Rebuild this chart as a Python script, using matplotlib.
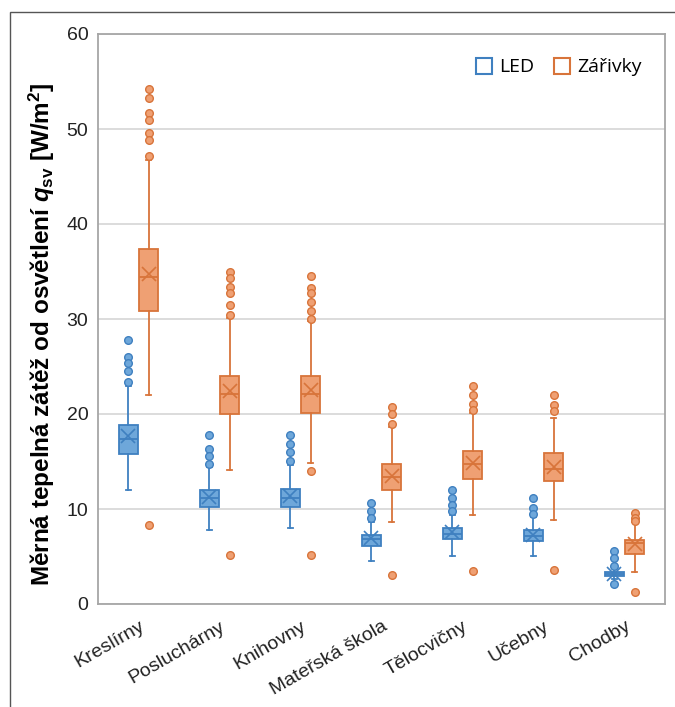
import matplotlib
matplotlib.use("Agg")
import matplotlib.pyplot as plt
from matplotlib import font_manager
from matplotlib.patches import Rectangle
from matplotlib.lines import Line2D

# ---------------- data ----------------
categories = ["Kreslírny", "Posluchárny", "Knihovny", "Mateřská škola",
              "Tělocvičny", "Učebny", "Chodby"]
series_names = ["LED", "Zářivky"]

led_q1 = [15.8, 10.2, 10.2, 6.1, 6.8, 6.6, 2.95]
led_med = [17.4, 11.2, 11.2, 6.8, 7.4, 7.2, 3.15]
led_q3 = [18.8, 12.0, 12.1, 7.3, 8.05, 7.75, 3.4]
led_mean = [17.7, 11.3, 11.4, 6.9, 7.6, 7.3, 3.2]
led_whislo = [12.0, 7.75, 7.95, 4.55, 5.1, 5.1, 2.6]
led_whishi = [23.0, 14.4, 14.6, 8.6, 9.4, 9.2, 3.8]
led_fliers = [
    [27.8, 26.0, 25.4, 24.5, 23.4],
    [17.8, 16.3, 15.6, 14.7],
    [17.8, 16.8, 16.0, 15.1],
    [10.6, 9.75, 9.05],
    [12.0, 11.2, 10.45, 9.75],
    [11.15, 10.1, 9.5],
    [5.6, 4.8, 4.0, 2.15],
]

zar_q1 = [30.8, 20.0, 20.1, 12.0, 13.2, 13.0, 5.3]
zar_med = [34.4, 22.1, 22.1, 13.4, 14.7, 14.25, 6.4]
zar_q3 = [37.4, 24.0, 24.0, 14.7, 16.1, 15.9, 6.7]
zar_mean = [34.7, 22.4, 22.5, 13.5, 14.85, 14.4, 6.3]
zar_whislo = [22.0, 14.1, 14.8, 8.6, 9.4, 8.85, 3.4]
zar_whishi = [46.7, 30.1, 29.8, 18.6, 20.1, 19.6, 8.6]
zar_fliers = [
    [54.2, 53.3, 51.7, 51.0, 49.6, 48.8, 47.2, 8.3],
    [34.9, 34.3, 33.4, 32.7, 31.5, 30.4, 5.2],
    [34.5, 33.3, 32.7, 31.8, 30.8, 30.0, 14.0, 5.2],
    [20.7, 20.0, 19.0, 3.1],
    [23.0, 22.0, 21.1, 20.4, 3.5],
    [22.0, 21.0, 20.3, 3.6],
    [9.6, 9.1, 8.75, 1.3],
]

y_ticks = [0, 10, 20, 30, 40, 50, 60]

# ---------------- fonts ----------------
def has_font(name):
    try:
        font_manager.findfont(name, fallback_to_default=False)
        return True
    except Exception:
        return False

label_family = "Liberation Sans Narrow" if has_font("Liberation Sans Narrow") else "Liberation Sans"
plt.rcParams["font.family"] = ["Liberation Sans", "DejaVu Sans"]
plt.rcParams["mathtext.fontset"] = "custom"
plt.rcParams["mathtext.it"] = label_family + ":italic:bold"
plt.rcParams["mathtext.rm"] = label_family + ":bold"
plt.rcParams["mathtext.bf"] = label_family + ":bold"

# ---------------- colors ----------------
blue_edge = "#3F80C0"
blue_fill = "#6EA7DA"
orange_edge = "#D8743A"
orange_fill = "#EFA073"

fig = plt.figure(figsize=(6.75, 7.07), dpi=100)
ax = fig.add_axes([98 / 675, 1 - 604 / 707, (665 - 98) / 675, (604 - 34) / 707])

# outer frame
fig.patches.append(Rectangle((10 / 675, -0.05), 1.1, 1 - 12 / 707 + 0.05,
                             transform=fig.transFigure, fill=False,
                             edgecolor="#555555", linewidth=1.0, zorder=0))

x = list(range(len(categories)))
offset = 0.125
width = 0.24


def make_stats(q1, med, q3, mean, lo, hi, fl):
    return [dict(q1=a, med=b, q3=c, mean=d, whislo=e, whishi=f, fliers=g)
            for a, b, c, d, e, f, g in zip(q1, med, q3, mean, lo, hi, fl)]


def draw(stats, positions, edge, fill):
    ax.bxp(stats, positions=positions, widths=width, showmeans=True,
           patch_artist=True, capwidths=0.06,
           boxprops=dict(facecolor=fill, edgecolor=edge, linewidth=1.3),
           medianprops=dict(color=edge, linewidth=1.3),
           whiskerprops=dict(color=edge, linewidth=1.3),
           capprops=dict(color=edge, linewidth=1.3),
           meanprops=dict(marker="x", markeredgecolor=edge, markersize=10,
                          markeredgewidth=1.2),
           flierprops=dict(marker="o", markerfacecolor=fill, markeredgecolor=edge,
                           markersize=5.5, markeredgewidth=1.0),
           manage_ticks=False, zorder=3)


draw(make_stats(led_q1, led_med, led_q3, led_mean, led_whislo, led_whishi, led_fliers),
     [i - offset for i in x], blue_edge, blue_fill)
draw(make_stats(zar_q1, zar_med, zar_q3, zar_mean, zar_whislo, zar_whishi, zar_fliers),
     [i + offset for i in x], orange_edge, orange_fill)

ax.set_xlim(-0.5, len(categories) - 0.5)
ax.set_ylim(0, 60)
ax.set_yticks(y_ticks)
ax.set_yticklabels([str(t) for t in y_ticks], fontsize=14)
ax.set_xticks(x)
ax.set_xticklabels(categories, fontsize=14, rotation=30, ha="right",
                   rotation_mode="anchor")
ax.tick_params(axis="both", length=0, colors="#222222")
ax.tick_params(axis="y", pad=7)
ax.tick_params(axis="x", pad=10)
ax.grid(axis="y", color="#D9D9D9", linewidth=1.3, zorder=0)
ax.set_axisbelow(True)
for s in ax.spines.values():
    s.set_color("#A6A6A6")
    s.set_linewidth(1.3)

ax.set_ylabel("Měrná tepelná zátěž od osvětlení $q_{\\mathrm{sv}}$ [W/m$^{\\mathrm{2}}$]",
              fontsize=17.5, fontweight="bold", family=label_family)
ax.yaxis.set_label_coords((57 - 98) / 567, (604 - 334) / 570)

handles = [Line2D([], [], linestyle="none", marker="s", markersize=11,
                  markerfacecolor="white", markeredgecolor=blue_edge, markeredgewidth=1.5),
           Line2D([], [], linestyle="none", marker="s", markersize=11,
                  markerfacecolor="white", markeredgecolor=orange_edge, markeredgewidth=1.5)]
ax.legend(handles, series_names, loc="upper right", bbox_to_anchor=(0.99, 0.988),
          ncol=2, frameon=False, handlelength=0.8, handletextpad=0.4,
          columnspacing=1.0, prop={"family": ["Open Sans", "DejaVu Sans"], "size": 14})

fig.savefig("out.png", dpi=100)
